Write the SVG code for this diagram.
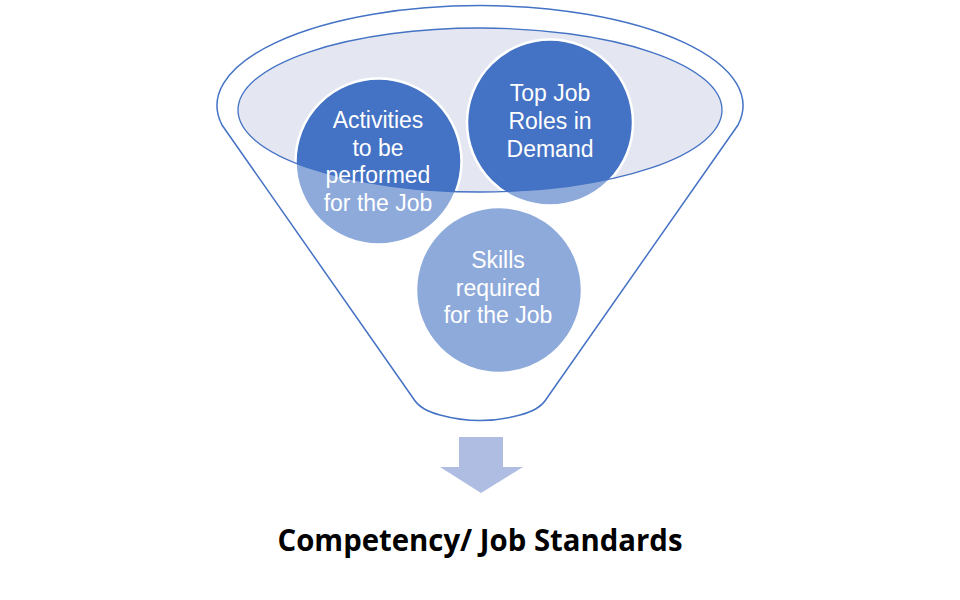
<svg xmlns="http://www.w3.org/2000/svg" width="960" height="600" viewBox="0 0 960 600">
  <style>
    .outline { fill: #ffffff; stroke: #4472c4; stroke-width: 1.5; }
    .rim { fill: #e4e7f2; stroke: none; }
    .rimline { fill: none; stroke: #4472c4; stroke-width: 1.3; }
    .light { fill: #8eaadb; }
    .dark { fill: #4472c4; }
    .ring { fill: none; stroke: #ffffff; stroke-width: 2.5; }
    .lbl { font-family: "Liberation Sans", "Open Sans", sans-serif; font-size: 23px; fill: #ffffff; text-anchor: middle; }
    .title { font-family: "Open Sans", "Liberation Sans", sans-serif; font-size: 30px; font-weight: bold; fill: #000000; text-anchor: middle; }
  </style>
  <defs>
    <clipPath id="rimClip">
      <ellipse cx="480" cy="110" rx="242" ry="82"/>
    </clipPath>
  </defs>
  <rect width="960" height="600" fill="#ffffff"/>

  <g id="funnel">
    <path class="outline" d="M222,125 A263,100 0 1 1 738,125 L547,398 Q540,410 520,415 Q480,426 440,415 Q420,410 413,398 Z"/>
    <ellipse class="rim" cx="480" cy="110" rx="242" ry="82"/>
  </g>

  <g id="node-activities">
    <circle class="light" cx="378.5" cy="161.5" r="83"/>
    <circle class="dark" cx="378.5" cy="161.5" r="83" clip-path="url(#rimClip)"/>
    <circle class="ring" cx="378.5" cy="161.5" r="83"/>
  </g>
  <g id="node-toproles">
    <circle class="light" cx="550" cy="122.5" r="83"/>
    <circle class="dark" cx="550" cy="122.5" r="83" clip-path="url(#rimClip)"/>
    <circle class="ring" cx="550" cy="122.5" r="83"/>
  </g>
  <g id="node-skills">
    <circle class="light" cx="499" cy="290" r="83"/>
    <circle class="ring" cx="499" cy="290" r="83"/>
  </g>

  <g id="rim-edge">
    <ellipse class="rimline" cx="480" cy="110" rx="242" ry="82"/>
  </g>

  <g id="labels">
    <text class="lbl" x="378" y="128">Activities</text>
    <text class="lbl" x="378" y="156">to be</text>
    <text class="lbl" x="378" y="183">performed</text>
    <text class="lbl" x="378" y="211">for the Job</text>
    <text class="lbl" x="550" y="101">Top Job</text>
    <text class="lbl" x="550" y="129">Roles in</text>
    <text class="lbl" x="550" y="157">Demand</text>
    <text class="lbl" x="498" y="268">Skills</text>
    <text class="lbl" x="498" y="296">required</text>
    <text class="lbl" x="498" y="323">for the Job</text>
  </g>

  <g id="connectors">
    <path d="M459,437 L503,437 L503,467 L523,467 L481,493 L440,467 L459,467 Z" fill="#b0bde2"/>
  </g>

  <g id="node-title">
    <text class="title" x="480" y="551" textLength="405" lengthAdjust="spacingAndGlyphs">Competency/ Job Standards</text>
  </g>
</svg>
